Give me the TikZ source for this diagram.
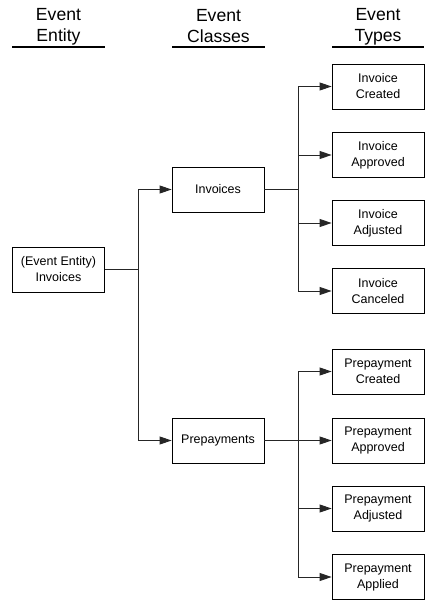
\documentclass[tikz,border=0pt]{standalone}
\usepackage{fontspec}
\setmainfont{Liberation Sans}
\usetikzlibrary{arrows.meta}
\begin{document}
\begin{tikzpicture}[x=1pt,y=-1pt,
  box/.style={draw=black,line width=0.8pt,minimum width=92pt,minimum height=45pt,inner sep=0pt,align=center,font=\fontsize{12.5}{16}\selectfont},
  head/.style={align=center,font=\fontsize{17.6}{21}\selectfont,inner sep=0pt},
  hline/.style={line width=2.6pt},
  conn/.style={line width=0.9pt,draw=black!85},
  arr/.style={conn,-{Triangle[length=12pt,width=8pt]}}]
\useasboundingbox (0,0) rectangle (436,601);
% headers
\node[head] (h1) at (58.5,26.5) {Event\\Entity};
\node[head] (h2) at (218.5,26.5) {Event\\Classes};
\node[head] (h3) at (378,26.5) {Event\\Types};
\coordinate (u1a) at (12,47); \coordinate (u1b) at (105,47);
\coordinate (u2a) at (172,47); \coordinate (u2b) at (265,47);
\coordinate (u3a) at (332,47); \coordinate (u3b) at (424,47);
\draw[hline] (u1a) -- (u1b);
\draw[hline] (u2a) -- (u2b);
\draw[hline] (u3a) -- (u3b);
% boxes
\node[box] (ent) at (58.5,269.5) {(Event Entity)\\Invoices};
\node[box] (inv) at (218,189.5) {Invoices};
\node[box] (pre) at (218,440.5) {Prepayments};
\node[box] (ic) at (378,86.5) {Invoice\\Created};
\node[box] (iap) at (378,155) {Invoice\\Approved};
\node[box] (iad) at (378,223) {Invoice\\Adjusted};
\node[box] (ica) at (378,291) {Invoice\\Canceled};
\node[box] (pc) at (378,371.5) {Prepayment\\Created};
\node[box] (pap) at (378,440.5) {Prepayment\\Approved};
\node[box] (pad) at (378,508.5) {Prepayment\\Adjusted};
\node[box] (pal) at (378,577) {Prepayment\\Applied};
% junctions
\coordinate (j1) at (138,269.5);
\coordinate (j2) at (298,189.5);
\coordinate (j3) at (298,440.5);
% connectors
\draw[conn] (ent) -- (j1);
\draw[arr] (j1) |- (inv);
\draw[arr] (j1) |- (pre);
\draw[conn] (inv) -- (j2);
\draw[arr] (j2) |- (ic);
\draw[arr] (j2) |- (iap);
\draw[arr] (j2) |- (iad);
\draw[arr] (j2) |- (ica);
\draw[conn] (pre) -- (j3);
\draw[arr] (j3) |- (pc);
\draw[arr] (j3) |- (pap);
\draw[arr] (j3) |- (pad);
\draw[arr] (j3) |- (pal);
\end{tikzpicture}
\end{document}
